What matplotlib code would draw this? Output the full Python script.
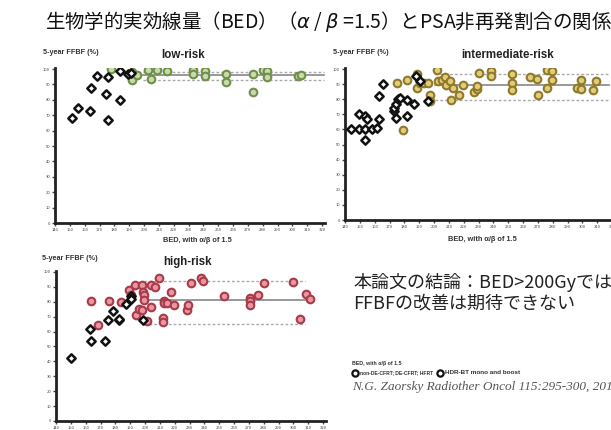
import matplotlib
matplotlib.use("Agg")
import matplotlib.pyplot as plt
from matplotlib.lines import Line2D

plt.rcParams['font.family'] = ['Noto Sans CJK JP', 'DejaVu Sans']

W, H = 611, 430

# low-risk
low_ebrt_x = [151.5, 155.6, 163.6, 164.5, 168, 174.4, 175.5, 176, 183.6, 184, 189.3, 191]
low_ebrt_y = [68, 74.6, 73, 87.6, 95.7, 83.7, 94.6, 67, 79.6, 99, 96.7, 97.5]
low_hdr_x = [177.8, 191.6, 192, 195, 203, 204.8, 208.8, 215.7, 232.9, 233, 241, 241,
             255.4, 255.4, 273.7, 273.7, 279.9, 282.9, 282.9, 304, 305.5]
low_hdr_y = [100, 98, 92.6, 96.3, 99.6, 93.7, 99.6, 98.5, 99.6, 96.7, 98.5, 95.6,
             96.7, 91.3, 96.7, 84.8, 99.6, 98.5, 94.8, 95.6, 96]
low_lines = [96.3, 98.2, 92.8]   # median, upper, lower
low_span = [199, 321]

# intermediate-risk
int_ebrt_x = [143.8, 149.7, 149.7, 153.5, 154.6, 153.5, 158, 153.5, 161.8, 163, 163, 165.8,
              173, 173, 174.4, 174.4, 176, 177, 182, 182, 186.5, 187.9, 190.6, 196]
int_ebrt_y = [60, 60, 70, 68.9, 66.7, 60, 60, 53.3, 61, 67, 82.2, 90,
              72, 74.4, 67.8, 76.7, 80, 81, 68.9, 79.6, 76.7, 95.6, 92, 79]
int_hdr_x = [175.3, 178.9, 182, 188.8, 188.8, 190.6, 193, 196, 197.3, 197.3, 202.2, 203,
             205.2, 207.4, 208, 210.8, 212.6, 211.5, 217, 219.3, 227, 228.8, 229, 230.6,
             238.2, 238.2, 252.4, 252.4, 252.4, 264.7, 269.7, 270.3, 276.4, 276.4, 279.3,
             279.3, 296.2, 299.1, 299.1, 307, 309.2]
int_hdr_y = [90.7, 59.7, 92.5, 96.9, 87.4, 90.7, 91, 90.7, 83, 78.5, 99.6, 91.8,
             92.5, 95, 89.6, 91.8, 87.4, 79.6, 83, 89.6, 84.5, 86.7, 88.5, 97.3,
             99, 95.6, 97, 90.7, 86.3, 94.7, 93.4, 83, 99.6, 87.4, 92.9,
             98.5, 87.4, 92.9, 86.7, 85.8, 91.8]
int_lines = [89.6, 96.9, 79.8]
int_span = [201, 318]

# high-risk
high_ebrt_x = [150.4, 162.7, 163.8, 173.3, 174.9, 178.2, 182.2, 182.5, 187.1, 190.4, 190.4, 198.7]
high_ebrt_y = [42, 61.5, 54, 54, 67.5, 73.5, 67.5, 68.5, 78.5, 84, 82, 67.5]
high_hdr_x = [163.3, 168.2, 176, 183.8, 189.3, 190.4, 193.3, 193.8, 196, 198.2, 198.7, 199.3,
              199.3, 198.2, 201.6, 203.8, 203.8, 206.7, 209.3, 212.7, 212.7, 214.9, 212.2,
              212.2, 217.8, 219.3, 228.2, 229.3, 230.9, 237.8, 239.3, 253.3, 271.1, 271.1,
              271.1, 276.4, 280.4, 300, 304.4, 308.2, 311.1]
high_hdr_y = [80.6, 64.3, 80.6, 80, 87.7, 84.8, 91.5, 71.4, 75.4, 91, 86.6, 84.4,
              81, 74.3, 67, 76.6, 91.5, 90, 96, 80.4, 79.5, 79.5, 69.2,
              66.5, 86.6, 77.7, 74.3, 78.1, 92.9, 96.2, 93.8, 83.9, 82.8, 80.4,
              78.1, 84.8, 92.9, 93.3, 68.3, 85.5, 81.7]
high_lines = [81, 93.8, 65]
high_span = [199, 308]

xticks = list(range(140, 330, 10))
yticks = list(range(0, 110, 10))


def px_axes(fig, l, t, r, b):
    return fig.add_axes([l / W, 1 - b / H, (r - l) / W, (b - t) / H])


def panel(ax, ex, ey, hx, hy, lines, span, edge, face):
    ax.set_xlim(140, 322)
    ax.set_ylim(0, 101)
    for s in ['top', 'right']:
        ax.spines[s].set_visible(False)
    for s in ['left', 'bottom']:
        ax.spines[s].set_linewidth(2)
        ax.spines[s].set_color('#222222')
    ax.set_xticks(xticks)
    ax.set_yticks(yticks)
    ax.tick_params(labelsize=3, length=2, width=1, colors='#444444', pad=1.5)
    ax.patch.set_alpha(0)
    ax.plot(span, [lines[0]] * 2, color='#888888', lw=1.2, zorder=1)
    ax.plot(span, [lines[1]] * 2, color='#aaaaaa', lw=1, ls=(0, (2, 1.5)), zorder=1)
    ax.plot(span, [lines[2]] * 2, color='#aaaaaa', lw=1, ls=(0, (2, 1.5)), zorder=1)
    ax.scatter(hx, hy, s=30, facecolor=face, edgecolor=edge, linewidth=1.5, zorder=3)
    ax.scatter(ex, ey, s=18, marker='D', facecolor='white', edgecolor='#111111',
               linewidth=1.8, zorder=4)


fig = plt.figure(figsize=(W / 100, H / 100), dpi=100)
fig.patch.set_facecolor('white')

ax1 = px_axes(fig, 55, 67.5, 325, 223)
ax2 = px_axes(fig, 345, 67.5, 615, 220)
ax3 = px_axes(fig, 56, 270.5, 326, 421)

panels = [
    (ax1, low_ebrt_x, low_ebrt_y, low_hdr_x, low_hdr_y, low_lines, low_span,
     '#6f8f4a', '#c9d9b0', 'low-risk', (183, 55)),
    (ax2, int_ebrt_x, int_ebrt_y, int_hdr_x, int_hdr_y, int_lines, int_span,
     '#8f7a2a', '#e3cc78', 'intermediate-risk', (508, 55)),
    (ax3, high_ebrt_x, high_ebrt_y, high_hdr_x, high_hdr_y, high_lines, high_span,
     '#a83a4a', '#e8969f', 'high-risk', (188, 262)),
]
for p in panels:
    ax, ex, ey, hx, hy, ln, sp, ec, fc, t, pos = p
    panel(ax, ex, ey, hx, hy, ln, sp, ec, fc)
    fig.text(pos[0] / W, 1 - pos[1] / H, t, fontsize=8.3, fontweight='bold',
             family='Liberation Sans', ha='center', va='center', color='#222222')

# axis labels
for x, y in [(43, 53), (333, 53), (42, 259)]:
    fig.text(x / W, 1 - y / H, '5-year FFBF (%)', fontsize=5.2, fontweight='bold',
             family='Liberation Sans', ha='left', va='center', color='#333333')
for x, y in [(197, 240), (482, 239)]:
    fig.text(x / W, 1 - y / H, 'BED, with α/β of 1.5', fontsize=5.3, fontweight='bold',
             family='Liberation Sans', ha='center', va='center', color='#333333')

# main title
fig.text(45 / W, 1 - 21 / H, '生物学的実効線量（BED）（$\\alpha$ / $\\beta$ =1.5）とPSA非再発割合の関係',
         fontsize=14, ha='left', va='center', color='#111111')

# conclusion
fig.text(353 / W, 1 - 282 / H, '本論文の結論：BED>200Gyでは', fontsize=13,
         ha='left', va='center', color='#222222')
fig.text(353 / W, 1 - 303 / H, 'FFBFの改善は期待できない', fontsize=13,
         ha='left', va='center', color='#222222')

# legend
fig.text(352 / W, 1 - 363 / H, 'BED, with α/β of 1.5', fontsize=3.8, fontweight='bold',
         family='Liberation Sans', ha='left', va='center', color='#333333')
for mx in [355, 440]:
    fig.add_artist(Line2D([mx / W], [1 - 373 / H], marker='o', markersize=4.5,
                          markerfacecolor='white', markeredgecolor='#111111',
                          markeredgewidth=1.6, transform=fig.transFigure))
fig.text(360 / W, 1 - 373 / H, 'non-DE-CFRT; DE-CFRT; HFRT', fontsize=3.6, fontweight='bold',
         family='Liberation Sans', ha='left', va='center', color='#333333')
fig.text(445 / W, 1 - 373 / H, 'HDR-BT mono and boost', fontsize=4.6, fontweight='bold',
         family='Liberation Sans', ha='left', va='center', color='#333333')

fig.text(352 / W, 1 - 387 / H, 'N.G. Zaorsky Radiother Oncol 115:295-300, 2015',
         fontsize=9.5, family='Liberation Serif', style='italic',
         ha='left', va='center', color='#555555')

fig.savefig('out.png', dpi=100)
